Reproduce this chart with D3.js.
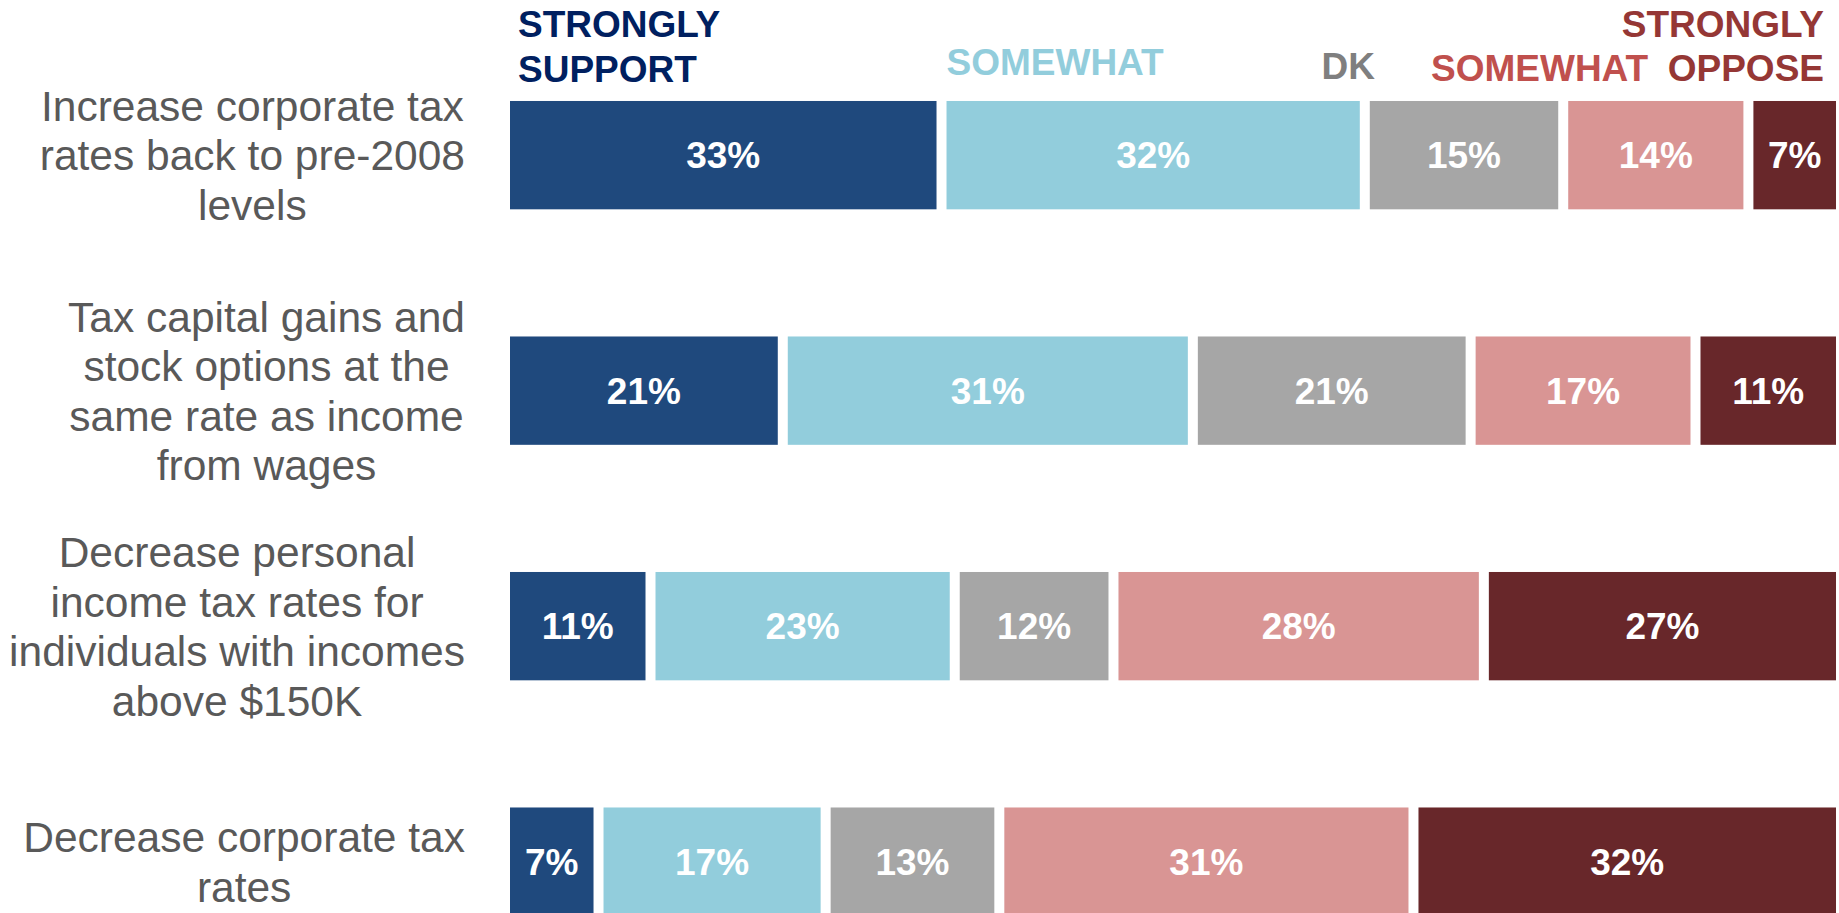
<!DOCTYPE html>
<html>
<head>
<meta charset="utf-8">
<script src="https://cdn.jsdelivr.net/npm/d3@7"></script>
<style>
    body { margin: 0; background: #fff; overflow: hidden; }
    svg { display: block; font-family: "Liberation Sans", Arial, sans-serif; }
</style>
</head>
<body>
<svg id="chart"></svg>
<script>
// questions, one line per array entry as in the original wrapping
const questions = [
    ["Increase corporate tax", "rates back to pre-2008", "levels"],
    ["Tax capital gains and", "stock options at the", "same rate as income", "from wages"],
    ["Decrease personal", "income tax rates for", "individuals with incomes", "above $150K"],
    ["Decrease corporate tax", "rates"]
];
const stronglySupport = [33, 21, 11, 7];
const somewhatSupport = [32, 31, 23, 17];
const dontKnow = [15, 21, 12, 13];
const somewhatOppose = [14, 17, 28, 31];
const stronglyOppose = [7, 11, 27, 32];

const keys = ["ss", "sw", "dk", "so", "st"];
const barColors = {ss: "#1f497d", sw: "#92cddc", dk: "#a6a6a6", so: "#d99594", st: "#68272a"};

const W = 1839, H = 913;
const svg = d3.select("#chart").attr("width", W).attr("height", H);

const rows = questions.map((q, i) => ({
    id: i,
    ss: stronglySupport[i],
    sw: somewhatSupport[i],
    dk: dontKnow[i],
    so: somewhatOppose[i],
    st: stronglyOppose[i]
}));
const series = d3.stack().keys(keys)(rows);

// vertical bands
const y = d3.scaleBand()
    .domain(rows.map(d => d.id))
    .range([37.4, 979.4])
    .paddingInner(0.54)
    .paddingOuter(0.27);

// each row is normalised to its own total (100% stacked)
const gap = 10;
const xFor = d => d3.scaleLinear()
    .domain([0, d3.sum(keys, k => d[k])])
    .range([505, 1841]);

const seg = svg.append("g").selectAll("g")
    .data(series)
    .join("g")
    .attr("fill", s => barColors[s.key]);

seg.selectAll("rect")
    .data(s => s)
    .join("rect")
    .attr("x", d => xFor(d.data)(d[0]) + gap / 2)
    .attr("y", d => y(d.data.id))
    .attr("width", d => xFor(d.data)(d[1]) - xFor(d.data)(d[0]) - gap)
    .attr("height", y.bandwidth());

seg.selectAll("text")
    .data(s => s)
    .join("text")
    .attr("x", d => (xFor(d.data)(d[0]) + xFor(d.data)(d[1])) / 2)
    .attr("y", d => y(d.data.id) + y.bandwidth() / 2)
    .attr("dy", "0.36em")
    .attr("text-anchor", "middle")
    .attr("fill", "#fff")
    .attr("font-weight", "bold")
    .attr("font-size", 37)
    .text(d => (d[1] - d[0]) + "%");

// category labels: a text box right-aligned at 465, lines centred inside it
const labelSize = 42.5, lineH = 49.5, labelRight = 465;
questions.forEach((lines, i) => {
    const g = svg.append("g");
    const cy = y(i) + y.bandwidth() / 2;
    const t = g.selectAll("text")
        .data(lines)
        .join("text")
        .attr("y", (l, j) => cy + (j - (lines.length - 1) / 2) * lineH)
        .attr("dy", "0.36em")
        .attr("text-anchor", "middle")
        .attr("fill", "#595959")
        .attr("font-size", labelSize)
        .text(l => l);
    const maxW = d3.max(t.nodes(), n => n.getComputedTextLength());
    t.attr("x", labelRight - maxW / 2);
});

// column headers
const headers = [
    {text: "STRONGLY", x: 518, y: 36.7, anchor: "start", color: "#002060"},
    {text: "SUPPORT", x: 518, y: 81.7, anchor: "start", color: "#002060"},
    {text: "SOMEWHAT", x: 946.5, y: 75, anchor: "start", color: "#92cddc"},
    {text: "DK", x: 1375, y: 79, anchor: "end", color: "#7f7f7f"},
    {text: "SOMEWHAT", x: 1431, y: 81, anchor: "start", color: "#c0504d"},
    {text: "OPPOSE", x: 1824, y: 81, anchor: "end", color: "#953735"},
    {text: "STRONGLY", x: 1824, y: 36.7, anchor: "end", color: "#953735"}
];
svg.append("g").selectAll("text")
    .data(headers)
    .join("text")
    .attr("x", d => d.x)
    .attr("y", d => d.y)
    .attr("text-anchor", d => d.anchor)
    .attr("fill", d => d.color)
    .attr("font-weight", "bold")
    .attr("font-size", 37)
    .text(d => d.text);
</script>
</body>
</html>
